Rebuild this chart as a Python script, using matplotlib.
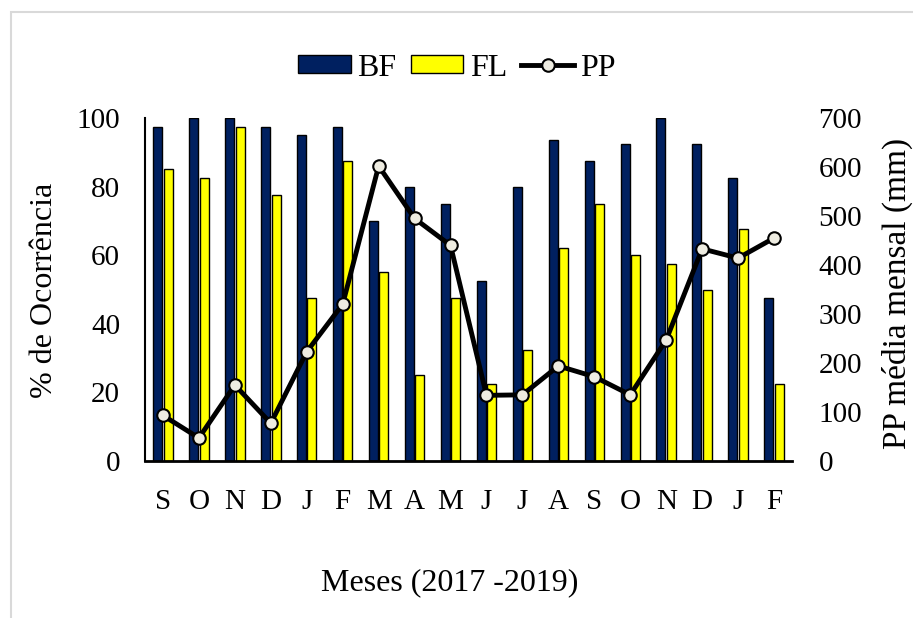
import matplotlib
matplotlib.use("Agg")
import matplotlib.pyplot as plt
import numpy as np
from matplotlib.patches import Rectangle
from matplotlib.lines import Line2D

months = ["S", "O", "N", "D", "J", "F", "M", "A", "M", "J", "J", "A", "S", "O", "N", "D", "J", "F"]
bf = [97.5, 100, 100, 97.5, 95, 97.5, 70, 80, 75, 52.5, 80, 93.5, 87.5, 92.5, 100, 92.5, 82.5, 47.5]
fl = [85, 82.5, 97.5, 77.5, 47.5, 87.5, 55, 25, 47.5, 22.5, 32.5, 62, 75, 60, 57.5, 50, 67.5, 22.5]
pp = [93, 47, 155, 77, 223, 320, 602, 495, 440, 134, 135, 194, 172, 135, 247, 433, 414, 455]

plt.rcParams['font.family'] = ['Liberation Serif', 'DejaVu Serif']
FS = 21
LFS = 23

W, H = 913, 618
fig = plt.figure(figsize=(W / 100, H / 100), dpi=100)
fig.patch.set_facecolor("white")
fig.add_artist(Rectangle((11 / W, -0.1), 1.2, 1 - 12 / H + 0.1, transform=fig.transFigure,
                         fill=False, edgecolor="#d9d9d9", linewidth=1.5))

ax = fig.add_axes([145 / W, 1 - 461 / H, (792 - 145) / W, (461 - 118) / H])
x = np.arange(len(months))
bw = 0.25
ax.bar(x - 0.145, bf, width=bw, color="#002060", edgecolor="black", linewidth=1, zorder=2)
ax.bar(x + 0.145, fl, width=bw, color="#FFFF00", edgecolor="black", linewidth=1, zorder=2)
ax.set_xlim(-0.5, len(months) - 0.5)
ax.set_ylim(0, 100)
ax.set_yticks(range(0, 101, 20))
ax.set_xticks(x)
ax.set_xticklabels(months)
ax.tick_params(axis="both", length=0, labelsize=FS)
ax.tick_params(axis="x", pad=20)
ax.tick_params(axis="y", pad=18)
for s in ["top", "right"]:
    ax.spines[s].set_visible(False)
ax.spines["left"].set_linewidth(1.5)
ax.spines["bottom"].set_linewidth(2)

ax2 = ax.twinx()
ax2.plot(x, pp, color="black", linewidth=3.5, marker="o", markersize=9,
         markerfacecolor="#EEECE1", markeredgecolor="black", markeredgewidth=1.5, zorder=3)
ax2.set_ylim(0, 700)
ax2.set_yticks(range(0, 701, 100))
ax2.tick_params(axis="y", length=0, labelsize=FS, pad=19)
for s in ["top", "right", "left", "bottom"]:
    ax2.spines[s].set_visible(False)

fig.text(45 / W, 1 - 290 / H, "% de Ocorrência", rotation=90, ha="center", va="center", fontsize=LFS)
fig.text(897 / W, 1 - 293 / H, "PP média mensal (mm)", rotation=90, ha="center", va="center", fontsize=LFS + 1)
fig.text(450 / W, 1 - 583 / H, "Meses (2017 -2019)", ha="center", va="center", fontsize=LFS)

handles = [Rectangle((0, 0), 1, 1, facecolor="#002060", edgecolor="black", linewidth=1),
           Rectangle((0, 0), 1, 1, facecolor="#FFFF00", edgecolor="black", linewidth=1),
           Line2D([0], [0], color="black", linewidth=3.5, marker="o", markersize=9,
                  markerfacecolor="#EEECE1", markeredgecolor="black", markeredgewidth=1.5)]
fig.legend(handles, ["BF", "FL", "PP"], loc="center", bbox_to_anchor=(457 / W, 1 - 68 / H),
           ncol=3, frameon=False, fontsize=LFS, handlelength=1.65, handletextpad=0.2,
           columnspacing=0.45, handleheight=0.5, borderpad=0, borderaxespad=0)

fig.savefig("out.png", dpi=100)
